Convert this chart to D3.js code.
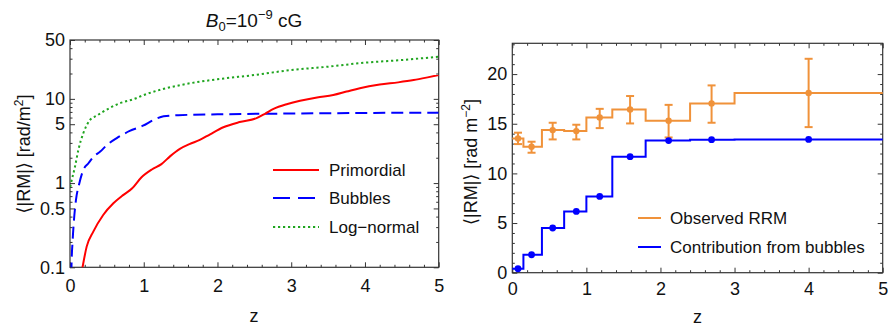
<!DOCTYPE html>
<html><head><meta charset="utf-8">
<script src="https://cdn.jsdelivr.net/npm/d3@7"></script>
<style>
html,body{margin:0;padding:0;background:#fff;}
svg text{font-family:"Liberation Sans",Arial,"DejaVu Sans",sans-serif;fill:#111;}
</style></head>
<body><svg id="c" width="888" height="328"></svg>
<script>
// ---------- Left panel data (log y) ----------
const primZ = [0.15,0.17,0.226,0.316,0.45,0.588,0.72,0.84,0.97,1.11,1.24,1.36,1.49,1.62,1.76,1.9,2.08,2.3,2.53,2.65,2.76,2.95,3.12,3.35,3.57,3.75,3.93,4.2,4.45,4.66,4.85,5.0];
const primV = [0.08,0.1,0.176,0.265,0.418,0.575,0.72,0.86,1.17,1.45,1.68,2.09,2.55,2.9,3.25,3.8,4.6,5.3,5.9,6.7,7.6,8.7,9.5,10.4,11.1,12.2,13.4,14.8,15.7,16.7,18.0,19.2];
const bubZ = [0.015,0.02,0.036,0.054,0.081,0.126,0.18,0.25,0.32,0.41,0.5,0.63,0.81,0.99,1.13,1.27,1.47,2.0,3.0,4.0,5.0];
const bubV = [0.05,0.1,0.21,0.365,0.63,0.99,1.43,1.72,2.06,2.37,2.83,3.4,4.16,4.8,5.6,6.2,6.4,6.55,6.7,6.8,6.85];
const lnZ = [0.003,0.02,0.068,0.113,0.18,0.27,0.36,0.45,0.68,0.86,1.0,1.25,1.5,2.0,2.5,3.0,3.5,4.0,4.5,5.0];
const lnV = [0.9,1.05,1.57,2.47,3.9,5.6,6.3,7.05,8.9,9.9,11.1,13.0,14.6,17.1,19.2,22.0,24.1,26.9,28.9,31.7];
const leftYTicks = [0.1,0.5,1,5,10,50];
const leftYTickLabels = ["0.1","0.5","1","5","10","50"];
const xTicks = [0,1,2,3,4,5];
const legendLeft = ["Primordial","Bubbles","Log\u2212normal"];

// ---------- Right panel data ----------
const binEdges = [0,0.15,0.4,0.7,1.0,1.35,1.8,2.4,3.0,5.0];
const binZ = [0.077,0.26,0.545,0.864,1.18,1.59,2.11,2.69,4.0];
const obsRRM = [13.52,12.68,14.36,14.26,15.64,16.44,15.3,17.05,18.09];
const obsLo = [12.95,12.08,13.42,13.42,14.56,15.03,13.62,15.1,14.66];
const obsHi = [14.1,13.19,15.1,14.9,16.5,17.79,16.9,18.86,21.54];
const bubRRM = [0.40,1.81,4.5,6.17,7.68,11.68,13.3,13.4,13.42];
const rightYTicks = [0,5,10,15,20];
const legendRight = ["Observed RRM","Contribution from bubbles"];

const svg = d3.select("#c");
const FS = 17, TFS = 18;
const frameCol = "#333";
const RED="#ff0000", BLUE="#0000ff", GREEN="#1fa51f", ORANGE="#f0923a";

function frameAxes(g, x, y, majX, minX, majY, minY, xFmt, yFmt, xPad, yPad){
  const [x0,x1]=x.range(), [y0,y1]=y.range();
  const b = g.append("g").attr("transform",`translate(0,${y0})`)
    .call(d3.axisBottom(x).tickValues(majX).tickSize(-5).tickPadding(xPad).tickFormat(xFmt));
  const bm = g.append("g").attr("transform",`translate(0,${y0})`)
    .call(d3.axisBottom(x).tickValues(minX).tickSize(-2.5).tickFormat(""));
  const t = g.append("g").attr("transform",`translate(0,${y1})`)
    .call(d3.axisTop(x).tickValues(majX).tickSize(-5).tickFormat(""));
  const tm = g.append("g").attr("transform",`translate(0,${y1})`)
    .call(d3.axisTop(x).tickValues(minX).tickSize(-2.5).tickFormat(""));
  const l = g.append("g").attr("transform",`translate(${x0},0)`)
    .call(d3.axisLeft(y).tickValues(majY).tickSize(-5).tickPadding(yPad).tickFormat(yFmt));
  const lm = g.append("g").attr("transform",`translate(${x0},0)`)
    .call(d3.axisLeft(y).tickValues(minY).tickSize(-2.5).tickFormat(""));
  const r = g.append("g").attr("transform",`translate(${x1},0)`)
    .call(d3.axisRight(y).tickValues(majY).tickSize(-5).tickFormat(""));
  const rm = g.append("g").attr("transform",`translate(${x1},0)`)
    .call(d3.axisRight(y).tickValues(minY).tickSize(-2.5).tickFormat(""));
  [b,bm,t,tm,l,lm,r,rm].forEach(a=>{
    a.select(".domain").remove();
    a.selectAll("line").attr("stroke",frameCol).attr("stroke-width",1);
    a.selectAll("text").attr("font-size",TFS).attr("font-family",null).attr("fill","#111");
  });
  g.append("rect").attr("x",x0).attr("y",y1).attr("width",x1-x0).attr("height",y0-y1)
    .attr("fill","none").attr("stroke",frameCol).attr("stroke-width",1.2);
}

// ================= LEFT PANEL =================
const xL = d3.scaleLinear().domain([0,5]).range([70,438.7]);
const yL = d3.scaleLog().domain([0.1,50]).range([267.3,40]);
const gL = svg.append("g");
gL.append("clipPath").attr("id","clipL").append("rect")
  .attr("x",70).attr("y",40).attr("width",438.7-70).attr("height",267.3-40);

const minorZ = d3.range(0,5.001,0.2).filter(v=>Math.abs(v-Math.round(v))>1e-6);
const minorLog = [];
[0.1,1,10].forEach(d=>{for(let k=2;k<=9;k++){const v=k*d; if(v<=50 && k!==5) minorLog.push(v);} });

frameAxes(gL,xL,yL,xTicks,minorZ,leftYTicks,minorLog,
  d=>String(d),(d,i)=>leftYTickLabels[i],12,5);

const lineL = d3.line().x(d=>xL(d[0])).y(d=>yL(d[1])).curve(d3.curveMonotoneX);
const cl = gL.append("g").attr("clip-path","url(#clipL)");
cl.append("path").datum(lnZ.map((z,i)=>[z,lnV[i]])).attr("d",lineL)
  .attr("fill","none").attr("stroke",GREEN).attr("stroke-width",2).attr("stroke-dasharray","2.2,2.8");
cl.append("path").datum(bubZ.map((z,i)=>[z,bubV[i]])).attr("d",lineL)
  .attr("fill","none").attr("stroke",BLUE).attr("stroke-width",2).attr("stroke-dasharray","12,6");
cl.append("path").datum(primZ.map((z,i)=>[z,primV[i]])).attr("d",lineL)
  .attr("fill","none").attr("stroke",RED).attr("stroke-width",2);

// title
const title = gL.append("text").attr("x",254).attr("y",27).attr("text-anchor","middle").attr("font-size",19);
title.append("tspan").attr("font-style","italic").text("B");
title.append("tspan").attr("dy",4).attr("font-size",13).text("0");
title.append("tspan").attr("dy",-4).text("=10");
title.append("tspan").attr("dy",-8).attr("font-size",13).text("\u22129");
title.append("tspan").attr("dy",8).text(" cG");

// axis labels
gL.append("text").attr("x",254).attr("y",322).attr("text-anchor","middle").attr("font-size",TFS).text("z");
const ylab = gL.append("text").attr("transform","translate(30,154) rotate(-90)").attr("text-anchor","middle").attr("font-size",TFS);
ylab.append("tspan").text("\u27E8|RM|\u27E9 [rad/m");
ylab.append("tspan").attr("dy",-7).attr("font-size",12).text("2");
ylab.append("tspan").attr("dy",7).text("]");

// legend
const legStyles = [{c:RED,d:null},{c:BLUE,d:"17,8"},{c:GREEN,d:"2.2,2.8"}];
const legY = [170,198,227];
legendLeft.forEach((t,i)=>{
  gL.append("line").attr("x1",273).attr("x2",319).attr("y1",legY[i]).attr("y2",legY[i])
    .attr("stroke",legStyles[i].c).attr("stroke-width",2).attr("stroke-dasharray",legStyles[i].d);
  gL.append("text").attr("x",329).attr("y",legY[i]).attr("dy","0.35em").attr("font-size",FS).text(t);
});

// ================= RIGHT PANEL =================
const xR = d3.scaleLinear().domain([0,5]).range([512.3,882.7]);
const yR = d3.scaleLinear().domain([0,23.1]).range([272.7,43.3]);
const gR = svg.append("g");
const minorR = d3.range(0,23.01,1).filter(v=>v%5!==0);
frameAxes(gR,xR,yR,xTicks,minorZ,rightYTicks,minorR,d=>String(d),d=>String(d),10,5);

const stepLine = d3.line().x(d=>xR(d[0])).y(d=>yR(d[1])).curve(d3.curveStepAfter);
const stepPts = vals => vals.map((v,i)=>[binEdges[i],v]).concat([[binEdges[binEdges.length-1],vals[vals.length-1]]]);

// observed
gR.append("path").datum(stepPts(obsRRM)).attr("d",stepLine)
  .attr("fill","none").attr("stroke",ORANGE).attr("stroke-width",2);
const eb = gR.append("g").attr("stroke",ORANGE).attr("stroke-width",2);
binZ.forEach((z,i)=>{
  const x=xR(z);
  eb.append("line").attr("x1",x).attr("x2",x).attr("y1",yR(obsLo[i])).attr("y2",yR(obsHi[i]));
  eb.append("line").attr("x1",x-4).attr("x2",x+4).attr("y1",yR(obsLo[i])).attr("y2",yR(obsLo[i]));
  eb.append("line").attr("x1",x-4).attr("x2",x+4).attr("y1",yR(obsHi[i])).attr("y2",yR(obsHi[i]));
});
gR.append("g").selectAll("circle").data(binZ).join("circle")
  .attr("cx",d=>xR(d)).attr("cy",(d,i)=>yR(obsRRM[i])).attr("r",3.2).attr("fill",ORANGE);

// bubbles
gR.append("path").datum(stepPts(bubRRM)).attr("d",stepLine)
  .attr("fill","none").attr("stroke",BLUE).attr("stroke-width",2);
gR.append("g").selectAll("circle").data(binZ).join("circle")
  .attr("cx",d=>xR(d)).attr("cy",(d,i)=>yR(bubRRM[i])).attr("r",3.4).attr("fill",BLUE);

// labels
gR.append("text").attr("x",697.5).attr("y",323).attr("text-anchor","middle").attr("font-size",TFS).text("z");
const ylabR = gR.append("text").attr("transform","translate(477,162) rotate(-90)").attr("text-anchor","middle").attr("font-size",TFS);
ylabR.append("tspan").text("\u27E8|RM|\u27E9 [rad m");
ylabR.append("tspan").attr("dy",-7).attr("font-size",12).text("\u22122");
ylabR.append("tspan").attr("dy",7).text("]");

const legYR=[218,247], legCR=[ORANGE,BLUE];
legendRight.forEach((t,i)=>{
  gR.append("line").attr("x1",638).attr("x2",661).attr("y1",legYR[i]).attr("y2",legYR[i])
    .attr("stroke",legCR[i]).attr("stroke-width",2);
  gR.append("text").attr("x",670).attr("y",legYR[i]).attr("dy","0.35em").attr("font-size",FS).text(t);
});
</script></body></html>
